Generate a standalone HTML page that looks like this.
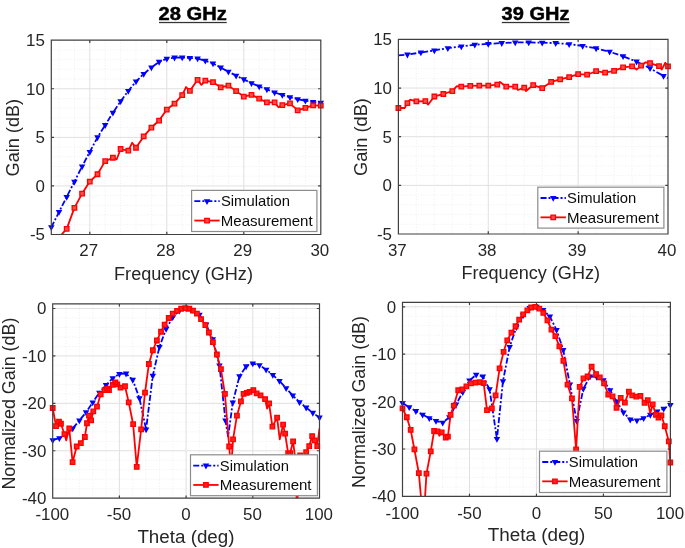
<!DOCTYPE html>
<html><head><meta charset="utf-8"><style>
html,body{margin:0;padding:0;background:#fff;width:685px;height:548px;overflow:hidden}
svg{display:block;will-change:transform}
</style></head><body>
<svg width="685" height="548" viewBox="0 0 685 548" font-family="Liberation Sans, sans-serif">
<rect width="685" height="548" fill="#fff"/>
<path d="M59.00 40.20V234.50M74.40 40.20V234.50M105.20 40.20V234.50M120.60 40.20V234.50M136.00 40.20V234.50M151.40 40.20V234.50M182.20 40.20V234.50M197.60 40.20V234.50M213.00 40.20V234.50M228.40 40.20V234.50M259.20 40.20V234.50M274.60 40.20V234.50M290.00 40.20V234.50M305.40 40.20V234.50M51.30 224.78H320.80M51.30 215.07H320.80M51.30 205.35H320.80M51.30 195.64H320.80M51.30 176.21H320.80M51.30 166.50H320.80M51.30 156.78H320.80M51.30 147.06H320.80M51.30 127.63H320.80M51.30 117.92H320.80M51.30 108.20H320.80M51.30 98.49H320.80M51.30 79.06H320.80M51.30 69.34H320.80M51.30 59.63H320.80M51.30 49.91H320.80" stroke="#ededed" stroke-width="0.9" stroke-dasharray="1 1.8" fill="none"/>
<path d="M89.80 40.20V234.50M166.80 40.20V234.50M243.80 40.20V234.50M51.30 185.93H320.80M51.30 137.35H320.80M51.30 88.77H320.80" stroke="#e0e0e0" stroke-width="1" fill="none"/>
<path d="M416.37 39.40V234.00M434.35 39.40V234.00M452.32 39.40V234.00M470.29 39.40V234.00M506.24 39.40V234.00M524.21 39.40V234.00M542.19 39.40V234.00M560.16 39.40V234.00M596.11 39.40V234.00M614.08 39.40V234.00M632.05 39.40V234.00M650.03 39.40V234.00M398.40 224.27H668.00M398.40 214.54H668.00M398.40 204.81H668.00M398.40 195.08H668.00M398.40 175.62H668.00M398.40 165.89H668.00M398.40 156.16H668.00M398.40 146.43H668.00M398.40 126.97H668.00M398.40 117.24H668.00M398.40 107.51H668.00M398.40 97.78H668.00M398.40 78.32H668.00M398.40 68.59H668.00M398.40 58.86H668.00M398.40 49.13H668.00" stroke="#ededed" stroke-width="0.9" stroke-dasharray="1 1.8" fill="none"/>
<path d="M488.27 39.40V234.00M578.13 39.40V234.00M398.40 185.35H668.00M398.40 136.70H668.00M398.40 88.05H668.00" stroke="#e0e0e0" stroke-width="1" fill="none"/>
<path d="M66.04 303.80V498.20M79.38 303.80V498.20M92.72 303.80V498.20M106.06 303.80V498.20M132.74 303.80V498.20M146.08 303.80V498.20M159.42 303.80V498.20M172.76 303.80V498.20M199.44 303.80V498.20M212.78 303.80V498.20M226.12 303.80V498.20M239.46 303.80V498.20M266.14 303.80V498.20M279.48 303.80V498.20M292.82 303.80V498.20M306.16 303.80V498.20M52.70 488.71H319.50M52.70 479.23H319.50M52.70 469.74H319.50M52.70 460.26H319.50M52.70 441.29H319.50M52.70 431.80H319.50M52.70 422.32H319.50M52.70 412.83H319.50M52.70 393.86H319.50M52.70 384.38H319.50M52.70 374.89H319.50M52.70 365.41H319.50M52.70 346.44H319.50M52.70 336.95H319.50M52.70 327.47H319.50M52.70 317.98H319.50" stroke="#ededed" stroke-width="0.9" stroke-dasharray="1 1.8" fill="none"/>
<path d="M119.40 303.80V498.20M186.10 303.80V498.20M252.80 303.80V498.20M52.70 450.77H319.50M52.70 403.35H319.50M52.70 355.92H319.50M52.70 308.50H319.50" stroke="#e0e0e0" stroke-width="1" fill="none"/>
<path d="M415.89 302.30V496.40M429.29 302.30V496.40M442.69 302.30V496.40M456.08 302.30V496.40M482.87 302.30V496.40M496.26 302.30V496.40M509.66 302.30V496.40M523.05 302.30V496.40M549.85 302.30V496.40M563.24 302.30V496.40M576.63 302.30V496.40M590.03 302.30V496.40M616.82 302.30V496.40M630.21 302.30V496.40M643.61 302.30V496.40M657.00 302.30V496.40M402.50 486.92H670.40M402.50 477.44H670.40M402.50 467.96H670.40M402.50 458.48H670.40M402.50 439.52H670.40M402.50 430.04H670.40M402.50 420.56H670.40M402.50 411.08H670.40M402.50 392.12H670.40M402.50 382.64H670.40M402.50 373.16H670.40M402.50 363.68H670.40M402.50 344.72H670.40M402.50 335.24H670.40M402.50 325.76H670.40M402.50 316.28H670.40" stroke="#ededed" stroke-width="0.9" stroke-dasharray="1 1.8" fill="none"/>
<path d="M469.48 302.30V496.40M536.45 302.30V496.40M603.42 302.30V496.40M402.50 449.00H670.40M402.50 401.60H670.40M402.50 354.20H670.40M402.50 306.80H670.40" stroke="#e0e0e0" stroke-width="1" fill="none"/>
<clipPath id="cTL"><rect x="51.30" y="40.20" width="269.50" height="194.30"/></clipPath>
<path clip-path="url(#cTL)" d="M51.30 227.31L59.00 212.06L66.70 196.90L74.40 181.65L82.10 166.40L89.80 151.92L97.50 137.35L105.20 125.11L112.90 112.77L120.60 101.31L128.30 90.91L136.00 81.49L143.70 73.91L151.40 67.40L159.10 61.86L166.80 58.66L174.50 57.59L182.20 57.49L189.90 57.88L197.60 58.46L205.30 60.80L213.00 63.42L220.70 67.60L228.40 71.77L236.10 75.66L243.80 79.35L251.50 83.24L259.20 86.44L266.90 89.36L274.60 92.47L282.30 94.99L290.00 97.32L297.70 99.17L305.40 100.72L313.10 101.99L320.80 102.86" stroke="#0000ff" stroke-width="1.8" fill="none" stroke-dasharray="6 2 2 2" stroke-linejoin="round"/>
<path d="M48.05 225.31L54.55 225.31L51.30 231.11ZM55.75 210.06L62.25 210.06L59.00 215.86ZM63.45 194.90L69.95 194.90L66.70 200.70ZM71.15 179.65L77.65 179.65L74.40 185.45ZM78.85 164.40L85.35 164.40L82.10 170.20ZM86.55 149.92L93.05 149.92L89.80 155.72ZM94.25 135.35L100.75 135.35L97.50 141.15ZM101.95 123.11L108.45 123.11L105.20 128.91ZM109.65 110.77L116.15 110.77L112.90 116.57ZM117.35 99.31L123.85 99.31L120.60 105.11ZM125.05 88.91L131.55 88.91L128.30 94.71ZM132.75 79.49L139.25 79.49L136.00 85.29ZM140.45 71.91L146.95 71.91L143.70 77.71ZM148.15 65.40L154.65 65.40L151.40 71.20ZM155.85 59.86L162.35 59.86L159.10 65.66ZM163.55 56.66L170.05 56.66L166.80 62.46ZM171.25 55.59L177.75 55.59L174.50 61.39ZM178.95 55.49L185.45 55.49L182.20 61.29ZM186.65 55.88L193.15 55.88L189.90 61.68ZM194.35 56.46L200.85 56.46L197.60 62.26ZM202.05 58.80L208.55 58.80L205.30 64.60ZM209.75 61.42L216.25 61.42L213.00 67.22ZM217.45 65.60L223.95 65.60L220.70 71.40ZM225.15 69.77L231.65 69.77L228.40 75.57ZM232.85 73.66L239.35 73.66L236.10 79.46ZM240.55 77.35L247.05 77.35L243.80 83.15ZM248.25 81.24L254.75 81.24L251.50 87.04ZM255.95 84.44L262.45 84.44L259.20 90.24ZM263.65 87.36L270.15 87.36L266.90 93.16ZM271.35 90.47L277.85 90.47L274.60 96.27ZM279.05 92.99L285.55 92.99L282.30 98.79ZM286.75 95.32L293.25 95.32L290.00 101.12ZM294.45 97.17L300.95 97.17L297.70 102.97ZM302.15 98.72L308.65 98.72L305.40 104.52ZM309.85 99.99L316.35 99.99L313.10 105.79ZM317.55 100.86L324.05 100.86L320.80 106.66Z" fill="#0000ff"/>
<path clip-path="url(#cTL)" d="M59.00 237.41L66.70 228.87L74.40 207.88L82.10 193.60L89.80 181.55L97.50 174.27L105.20 161.15L112.90 157.75L116.75 159.21L120.60 149.01L128.30 150.56L132.15 142.79L136.00 147.75L143.70 136.38L151.40 127.54L159.10 120.54L166.80 109.57L174.50 103.54L182.20 95.09L186.05 87.03L189.90 90.82L197.60 79.84L201.45 84.89L205.30 80.71L213.00 82.17L220.70 87.32L228.40 85.57L236.10 91.11L243.80 96.55L251.50 94.80L259.20 98.68L266.90 102.38L274.60 102.38L278.45 107.23L282.30 105.10L290.00 103.44L297.70 110.44L305.40 107.91L313.10 105.39L320.80 105.68" stroke="#ff0000" stroke-width="1.8" fill="none" stroke-linejoin="round"/>
<path d="M64.45 226.62h4.50v4.50h-4.50ZM72.15 205.63h4.50v4.50h-4.50ZM79.85 191.35h4.50v4.50h-4.50ZM87.55 179.30h4.50v4.50h-4.50ZM95.25 172.02h4.50v4.50h-4.50ZM102.95 158.90h4.50v4.50h-4.50ZM110.65 155.50h4.50v4.50h-4.50ZM118.35 146.76h4.50v4.50h-4.50ZM126.05 148.31h4.50v4.50h-4.50ZM133.75 145.50h4.50v4.50h-4.50ZM141.45 134.13h4.50v4.50h-4.50ZM149.15 125.29h4.50v4.50h-4.50ZM156.85 118.29h4.50v4.50h-4.50ZM164.55 107.32h4.50v4.50h-4.50ZM172.25 101.29h4.50v4.50h-4.50ZM179.95 92.84h4.50v4.50h-4.50ZM187.65 88.57h4.50v4.50h-4.50ZM195.35 77.59h4.50v4.50h-4.50ZM203.05 78.46h4.50v4.50h-4.50ZM210.75 79.92h4.50v4.50h-4.50ZM218.45 85.07h4.50v4.50h-4.50ZM226.15 83.32h4.50v4.50h-4.50ZM233.85 88.86h4.50v4.50h-4.50ZM241.55 94.30h4.50v4.50h-4.50ZM249.25 92.55h4.50v4.50h-4.50ZM256.95 96.43h4.50v4.50h-4.50ZM264.65 100.13h4.50v4.50h-4.50ZM272.35 100.13h4.50v4.50h-4.50ZM280.05 102.85h4.50v4.50h-4.50ZM287.75 101.19h4.50v4.50h-4.50ZM295.45 108.19h4.50v4.50h-4.50ZM303.15 105.66h4.50v4.50h-4.50ZM310.85 103.14h4.50v4.50h-4.50ZM318.55 103.43h4.50v4.50h-4.50Z" fill="#ff4a4a" stroke="#ff0000" stroke-width="1.3"/>
<clipPath id="cTR"><rect x="398.40" y="39.40" width="269.60" height="194.60"/></clipPath>
<path clip-path="url(#cTR)" d="M398.40 55.45L407.39 54.58L420.87 52.54L434.35 50.39L447.83 48.16L461.31 46.41L474.79 44.75L488.27 43.88L501.75 43.10L515.23 42.42L528.71 42.42L542.19 42.71L555.67 43.10L569.15 44.17L582.63 45.92L596.11 48.35L609.59 51.76L623.07 56.23L636.55 61.58L650.03 68.30L663.51 75.89L668.00 78.13" stroke="#0000ff" stroke-width="1.8" fill="none" stroke-dasharray="6 2 2 2" stroke-linejoin="round"/>
<path d="M404.14 52.58L410.64 52.58L407.39 58.38ZM417.62 50.54L424.12 50.54L420.87 56.34ZM431.10 48.39L437.60 48.39L434.35 54.19ZM444.58 46.16L451.08 46.16L447.83 51.96ZM458.06 44.41L464.56 44.41L461.31 50.21ZM471.54 42.75L478.04 42.75L474.79 48.55ZM485.02 41.88L491.52 41.88L488.27 47.68ZM498.50 41.10L505.00 41.10L501.75 46.90ZM511.98 40.42L518.48 40.42L515.23 46.22ZM525.46 40.42L531.96 40.42L528.71 46.22ZM538.94 40.71L545.44 40.71L542.19 46.51ZM552.42 41.10L558.92 41.10L555.67 46.90ZM565.90 42.17L572.40 42.17L569.15 47.97ZM579.38 43.92L585.88 43.92L582.63 49.72ZM592.86 46.35L599.36 46.35L596.11 52.15ZM606.34 49.76L612.84 49.76L609.59 55.56ZM619.82 54.23L626.32 54.23L623.07 60.03ZM633.30 59.58L639.80 59.58L636.55 65.38ZM646.78 66.30L653.28 66.30L650.03 72.10ZM660.26 73.89L666.76 73.89L663.51 79.69Z" fill="#0000ff"/>
<path clip-path="url(#cTR)" d="M398.40 108.00L404.69 108.00L407.39 103.13L410.08 99.73L416.37 101.38L425.36 101.09L428.06 104.59L434.35 96.52L443.33 93.99L452.32 91.16L456.81 86.10L461.31 86.69L470.29 85.81L479.28 85.71L488.27 85.71L497.25 84.55L499.95 81.92L506.24 86.69L515.23 86.69L517.92 90.00L524.21 87.66L526.01 90.97L533.20 85.03L542.19 88.05L551.17 81.92L560.16 79.29L569.15 77.06L578.13 74.04L587.12 74.72L596.11 71.22L605.09 72.68L614.08 70.83L623.07 67.42L632.05 66.35L636.55 69.56L641.04 65.67L645.53 62.27L650.03 63.04L659.01 66.16L661.71 69.56L665.30 62.75L668.00 66.35" stroke="#ff0000" stroke-width="1.8" fill="none" stroke-linejoin="round"/>
<path d="M396.15 105.75h4.50v4.50h-4.50ZM405.14 100.88h4.50v4.50h-4.50ZM414.12 99.13h4.50v4.50h-4.50ZM423.11 98.84h4.50v4.50h-4.50ZM432.10 94.27h4.50v4.50h-4.50ZM441.08 91.74h4.50v4.50h-4.50ZM450.07 88.91h4.50v4.50h-4.50ZM459.06 84.44h4.50v4.50h-4.50ZM468.04 83.56h4.50v4.50h-4.50ZM477.03 83.46h4.50v4.50h-4.50ZM486.02 83.46h4.50v4.50h-4.50ZM495.00 82.30h4.50v4.50h-4.50ZM503.99 84.44h4.50v4.50h-4.50ZM512.98 84.44h4.50v4.50h-4.50ZM521.96 85.41h4.50v4.50h-4.50ZM530.95 82.78h4.50v4.50h-4.50ZM539.94 85.80h4.50v4.50h-4.50ZM548.92 79.67h4.50v4.50h-4.50ZM557.91 77.04h4.50v4.50h-4.50ZM566.90 74.81h4.50v4.50h-4.50ZM575.88 71.79h4.50v4.50h-4.50ZM584.87 72.47h4.50v4.50h-4.50ZM593.86 68.97h4.50v4.50h-4.50ZM602.84 70.43h4.50v4.50h-4.50ZM611.83 68.58h4.50v4.50h-4.50ZM620.82 65.17h4.50v4.50h-4.50ZM629.80 64.10h4.50v4.50h-4.50ZM638.79 63.42h4.50v4.50h-4.50ZM647.78 60.79h4.50v4.50h-4.50ZM656.76 63.91h4.50v4.50h-4.50ZM665.75 64.10h4.50v4.50h-4.50Z" fill="#ff4a4a" stroke="#ff0000" stroke-width="1.3"/>
<clipPath id="cBL"><rect x="52.70" y="303.80" width="266.80" height="194.40"/></clipPath>
<path clip-path="url(#cBL)" d="M52.70 440.20L59.37 438.21L66.04 434.65L72.71 428.48L79.38 420.42L86.05 412.36L92.72 402.40L99.39 392.68L106.06 385.09L112.73 378.21L119.40 373.94L126.07 373.61L132.74 379.87L139.41 398.13L146.08 429.43L152.75 375.84L159.42 346.91L166.09 328.89L172.76 317.32L179.43 310.58L186.10 308.50L192.77 309.92L199.44 314.66L206.11 324.62L212.78 339.32L219.45 365.41L225.45 420.42L228.12 436.55L232.79 402.40L239.46 376.31L246.13 366.36L252.80 363.51L259.47 365.26L266.14 369.67L272.81 374.89L279.48 381.06L286.15 388.17L292.82 395.52L299.49 402.16L306.16 407.62L312.83 412.83L319.50 417.58" stroke="#0000ff" stroke-width="1.8" fill="none" stroke-dasharray="6 2 2 2" stroke-linejoin="round"/>
<path d="M49.45 438.20L55.95 438.20L52.70 444.00ZM56.12 436.21L62.62 436.21L59.37 442.01ZM62.79 432.65L69.29 432.65L66.04 438.45ZM69.46 426.48L75.96 426.48L72.71 432.28ZM76.13 418.42L82.63 418.42L79.38 424.22ZM82.80 410.36L89.30 410.36L86.05 416.16ZM89.47 400.40L95.97 400.40L92.72 406.20ZM96.14 390.68L102.64 390.68L99.39 396.48ZM102.81 383.09L109.31 383.09L106.06 388.89ZM109.48 376.21L115.98 376.21L112.73 382.01ZM116.15 371.94L122.65 371.94L119.40 377.74ZM122.82 371.61L129.32 371.61L126.07 377.41ZM129.49 377.87L135.99 377.87L132.74 383.67ZM136.16 396.13L142.66 396.13L139.41 401.93ZM142.83 427.43L149.33 427.43L146.08 433.23ZM149.50 373.84L156.00 373.84L152.75 379.64ZM156.17 344.91L162.67 344.91L159.42 350.71ZM162.84 326.89L169.34 326.89L166.09 332.69ZM169.51 315.32L176.01 315.32L172.76 321.12ZM176.18 308.58L182.68 308.58L179.43 314.38ZM182.85 306.50L189.35 306.50L186.10 312.30ZM189.52 307.92L196.02 307.92L192.77 313.72ZM196.19 312.66L202.69 312.66L199.44 318.46ZM202.86 322.62L209.36 322.62L206.11 328.42ZM209.53 337.32L216.03 337.32L212.78 343.12ZM216.20 363.41L222.70 363.41L219.45 369.21ZM222.20 418.42L228.70 418.42L225.45 424.22ZM229.54 400.40L236.04 400.40L232.79 406.20ZM236.21 374.31L242.71 374.31L239.46 380.11ZM242.88 364.36L249.38 364.36L246.13 370.16ZM249.55 361.51L256.05 361.51L252.80 367.31ZM256.22 363.26L262.72 363.26L259.47 369.06ZM262.89 367.67L269.39 367.67L266.14 373.47ZM269.56 372.89L276.06 372.89L272.81 378.69ZM276.23 379.06L282.73 379.06L279.48 384.86ZM282.90 386.17L289.40 386.17L286.15 391.97ZM289.57 393.52L296.07 393.52L292.82 399.32ZM296.24 400.16L302.74 400.16L299.49 405.96ZM302.91 405.62L309.41 405.62L306.16 411.42ZM309.58 410.83L316.08 410.83L312.83 416.63ZM316.25 415.58L322.75 415.58L319.50 421.38Z" fill="#0000ff"/>
<path clip-path="url(#cBL)" d="M52.70 408.00L56.04 426.11L58.97 421.65L60.97 423.74L64.44 434.17L66.17 440.34L69.24 428.48L72.58 462.16L76.71 446.51L80.85 443.19L84.85 437.02L86.98 423.27L88.98 415.68L91.12 420.42L93.25 411.41L96.99 406.67L100.72 394.34L104.59 390.07L107.13 388.65L108.99 390.07L112.86 384.85L115.40 382.48L117.27 384.38L120.47 387.70L125.00 386.27L128.74 402.40L133.14 424.22L136.74 466.90L141.14 429.43L145.01 392.68L148.88 363.98L152.88 350.23L156.89 340.51L161.02 331.73L164.62 324.62L168.76 317.98L172.76 313.71L177.03 310.87L181.16 308.73L185.30 308.21L189.30 308.73L192.90 310.63L196.91 313.71L201.04 319.17L205.31 325.09L208.91 332.49L212.91 342.17L216.92 354.50L220.92 369.20L224.92 393.86L229.19 446.51L231.06 469.74L233.06 439.39L236.93 415.68L240.93 401.45L243.60 393.86L246.80 392.91L249.60 391.97L253.33 390.07L256.67 393.39L260.54 395.29L265.07 399.08L267.07 408.56L269.07 403.35L272.41 426.59L277.08 417.58L279.75 439.39L283.08 424.69L285.08 433.70L288.15 453.15L290.15 453.15L293.09 441.29L295.09 457.89L296.96 507.69L300.16 455.52L303.49 460.26L306.16 452.20L309.23 446.03L312.16 436.07L314.56 440.34L317.23 446.03L319.50 428.48" stroke="#ff0000" stroke-width="1.8" fill="none" stroke-linejoin="round"/>
<path d="M50.45 405.75h4.50v4.50h-4.50ZM53.79 423.86h4.50v4.50h-4.50ZM56.72 419.40h4.50v4.50h-4.50ZM58.72 421.49h4.50v4.50h-4.50ZM62.19 431.92h4.50v4.50h-4.50ZM66.99 426.23h4.50v4.50h-4.50ZM70.33 459.91h4.50v4.50h-4.50ZM74.46 444.26h4.50v4.50h-4.50ZM78.60 440.94h4.50v4.50h-4.50ZM82.60 434.77h4.50v4.50h-4.50ZM84.73 421.02h4.50v4.50h-4.50ZM86.73 413.43h4.50v4.50h-4.50ZM88.87 418.17h4.50v4.50h-4.50ZM91.00 409.16h4.50v4.50h-4.50ZM94.74 404.42h4.50v4.50h-4.50ZM98.47 392.09h4.50v4.50h-4.50ZM102.34 387.82h4.50v4.50h-4.50ZM104.88 386.40h4.50v4.50h-4.50ZM106.74 387.82h4.50v4.50h-4.50ZM110.61 382.60h4.50v4.50h-4.50ZM113.15 380.23h4.50v4.50h-4.50ZM115.02 382.13h4.50v4.50h-4.50ZM118.22 385.45h4.50v4.50h-4.50ZM122.75 384.02h4.50v4.50h-4.50ZM126.49 400.15h4.50v4.50h-4.50ZM130.89 421.97h4.50v4.50h-4.50ZM134.49 464.65h4.50v4.50h-4.50ZM138.89 427.18h4.50v4.50h-4.50ZM142.76 390.43h4.50v4.50h-4.50ZM146.63 361.73h4.50v4.50h-4.50ZM150.63 347.98h4.50v4.50h-4.50ZM154.64 338.26h4.50v4.50h-4.50ZM158.77 329.48h4.50v4.50h-4.50ZM162.37 322.37h4.50v4.50h-4.50ZM166.51 315.73h4.50v4.50h-4.50ZM170.51 311.46h4.50v4.50h-4.50ZM174.78 308.62h4.50v4.50h-4.50ZM178.91 306.48h4.50v4.50h-4.50ZM183.05 305.96h4.50v4.50h-4.50ZM187.05 306.48h4.50v4.50h-4.50ZM190.65 308.38h4.50v4.50h-4.50ZM194.66 311.46h4.50v4.50h-4.50ZM198.79 316.92h4.50v4.50h-4.50ZM203.06 322.84h4.50v4.50h-4.50ZM206.66 330.24h4.50v4.50h-4.50ZM210.66 339.92h4.50v4.50h-4.50ZM214.67 352.25h4.50v4.50h-4.50ZM218.67 366.95h4.50v4.50h-4.50ZM222.67 391.61h4.50v4.50h-4.50ZM226.94 444.26h4.50v4.50h-4.50ZM230.81 437.14h4.50v4.50h-4.50ZM234.68 413.43h4.50v4.50h-4.50ZM238.68 399.20h4.50v4.50h-4.50ZM241.35 391.61h4.50v4.50h-4.50ZM244.55 390.66h4.50v4.50h-4.50ZM247.35 389.72h4.50v4.50h-4.50ZM251.08 387.82h4.50v4.50h-4.50ZM254.42 391.14h4.50v4.50h-4.50ZM258.29 393.04h4.50v4.50h-4.50ZM262.82 396.83h4.50v4.50h-4.50ZM266.82 401.10h4.50v4.50h-4.50ZM270.16 424.34h4.50v4.50h-4.50ZM274.83 415.33h4.50v4.50h-4.50ZM280.83 422.44h4.50v4.50h-4.50ZM282.83 431.45h4.50v4.50h-4.50ZM285.90 450.90h4.50v4.50h-4.50ZM287.90 450.90h4.50v4.50h-4.50ZM290.84 439.04h4.50v4.50h-4.50ZM297.91 453.27h4.50v4.50h-4.50ZM303.91 449.95h4.50v4.50h-4.50ZM306.98 443.78h4.50v4.50h-4.50ZM309.91 433.82h4.50v4.50h-4.50ZM312.31 438.09h4.50v4.50h-4.50ZM314.98 443.78h4.50v4.50h-4.50Z" fill="#ff2020" stroke="#ff0000" stroke-width="1.3"/>
<clipPath id="cBR"><rect x="402.50" y="302.30" width="267.90" height="194.10"/></clipPath>
<path clip-path="url(#cBR)" d="M402.50 403.02L409.20 407.29L415.89 411.08L422.59 414.64L429.29 418.19L435.99 421.04L442.69 422.69L449.38 417.24L456.08 404.45L462.78 392.12L469.48 380.51L476.17 374.82L482.87 376.48L489.57 389.28L496.93 439.05L502.96 381.22L509.66 346.90L516.36 327.18L523.05 315.33L529.75 307.99L536.45 306.80L543.15 309.88L549.85 316.61L556.54 329.89L563.24 349.94L569.94 384.54L576.63 421.04L583.33 388.80L590.03 376.48L596.73 376.95L603.42 380.27L610.12 390.23L616.82 401.60L623.52 412.50L630.21 419.61L636.91 420.56L643.61 418.19L650.31 414.87L657.00 411.56L663.70 408.71L670.40 404.92" stroke="#0000ff" stroke-width="1.8" fill="none" stroke-dasharray="6 2 2 2" stroke-linejoin="round"/>
<path d="M399.25 401.02L405.75 401.02L402.50 406.82ZM405.95 405.29L412.45 405.29L409.20 411.09ZM412.64 409.08L419.14 409.08L415.89 414.88ZM419.34 412.64L425.84 412.64L422.59 418.44ZM426.04 416.19L432.54 416.19L429.29 421.99ZM432.74 419.04L439.24 419.04L435.99 424.84ZM439.44 420.69L445.94 420.69L442.69 426.49ZM446.13 415.24L452.63 415.24L449.38 421.04ZM452.83 402.45L459.33 402.45L456.08 408.25ZM459.53 390.12L466.03 390.12L462.78 395.92ZM466.23 378.51L472.73 378.51L469.48 384.31ZM472.92 372.82L479.42 372.82L476.17 378.62ZM479.62 374.48L486.12 374.48L482.87 380.28ZM486.32 387.28L492.82 387.28L489.57 393.08ZM493.68 437.05L500.18 437.05L496.93 442.85ZM499.71 379.22L506.21 379.22L502.96 385.02ZM506.41 344.90L512.91 344.90L509.66 350.70ZM513.11 325.18L519.61 325.18L516.36 330.98ZM519.80 313.33L526.30 313.33L523.05 319.13ZM526.50 305.99L533.00 305.99L529.75 311.79ZM533.20 304.80L539.70 304.80L536.45 310.60ZM539.90 307.88L546.40 307.88L543.15 313.68ZM546.60 314.61L553.10 314.61L549.85 320.41ZM553.29 327.89L559.79 327.89L556.54 333.69ZM559.99 347.94L566.49 347.94L563.24 353.74ZM566.69 382.54L573.19 382.54L569.94 388.34ZM573.38 419.04L579.88 419.04L576.63 424.84ZM580.08 386.80L586.58 386.80L583.33 392.60ZM586.78 374.48L593.28 374.48L590.03 380.28ZM593.48 374.95L599.98 374.95L596.73 380.75ZM600.17 378.27L606.67 378.27L603.42 384.07ZM606.87 388.23L613.37 388.23L610.12 394.03ZM613.57 399.60L620.07 399.60L616.82 405.40ZM620.27 410.50L626.77 410.50L623.52 416.30ZM626.96 417.61L633.46 417.61L630.21 423.41ZM633.66 418.56L640.16 418.56L636.91 424.36ZM640.36 416.19L646.86 416.19L643.61 421.99ZM647.06 412.87L653.56 412.87L650.31 418.67ZM653.75 409.56L660.25 409.56L657.00 415.36ZM660.45 406.71L666.95 406.71L663.70 412.51ZM667.15 402.92L673.65 402.92L670.40 408.72Z" fill="#0000ff"/>
<path clip-path="url(#cBR)" d="M402.50 408.47L406.79 417.24L410.67 429.90L414.42 449.47L418.84 473.17L422.59 515.36L423.93 515.36L426.48 473.65L430.76 451.37L434.11 430.99L437.46 431.46L439.34 435.73L441.75 432.41L445.77 437.62L447.91 436.68L450.59 414.87L453.80 405.63L458.22 390.23L462.24 389.28L466.39 386.43L470.95 383.35L475.50 382.64L479.66 382.17L483.67 383.12L487.02 410.13L491.84 408.47L495.60 395.44L499.61 368.28L503.63 351.83L507.25 340.31L511.40 332.68L515.55 326.24L519.17 319.60L523.19 314.39L527.34 310.41L531.09 307.51L535.24 306.80L539.26 308.60L543.28 312.96L547.43 320.31L551.45 329.55L555.34 336.19L559.36 346.38L563.37 360.84L567.53 384.54L571.95 398.28L576.10 449.47L579.72 386.91L583.47 378.38L587.62 376.48L591.64 366.53L596.06 374.11L599.81 377.43L604.09 383.35L608.25 394.49L612.53 396.39L616.55 407.76L620.70 397.81L624.86 402.55L628.88 391.65L632.22 395.44L636.24 396.62L640.40 395.91L644.55 402.79L647.76 400.18L650.17 413.45L652.72 404.45L655.93 414.87L658.48 417.72L661.43 415.35L664.77 426.25L668.79 441.42L670.27 462.51" stroke="#ff0000" stroke-width="1.8" fill="none" stroke-linejoin="round"/>
<path d="M400.25 406.22h4.50v4.50h-4.50ZM404.54 414.99h4.50v4.50h-4.50ZM408.42 427.65h4.50v4.50h-4.50ZM412.17 447.22h4.50v4.50h-4.50ZM416.59 470.92h4.50v4.50h-4.50ZM424.23 471.40h4.50v4.50h-4.50ZM428.51 449.12h4.50v4.50h-4.50ZM431.86 428.74h4.50v4.50h-4.50ZM435.21 429.21h4.50v4.50h-4.50ZM439.50 430.16h4.50v4.50h-4.50ZM443.52 435.37h4.50v4.50h-4.50ZM445.66 434.43h4.50v4.50h-4.50ZM448.34 412.62h4.50v4.50h-4.50ZM451.55 403.38h4.50v4.50h-4.50ZM455.97 387.98h4.50v4.50h-4.50ZM459.99 387.03h4.50v4.50h-4.50ZM464.14 384.18h4.50v4.50h-4.50ZM468.70 381.10h4.50v4.50h-4.50ZM473.25 380.39h4.50v4.50h-4.50ZM477.41 379.92h4.50v4.50h-4.50ZM481.42 380.87h4.50v4.50h-4.50ZM484.77 407.88h4.50v4.50h-4.50ZM489.59 406.22h4.50v4.50h-4.50ZM493.35 393.19h4.50v4.50h-4.50ZM497.36 366.03h4.50v4.50h-4.50ZM501.38 349.58h4.50v4.50h-4.50ZM505.00 338.06h4.50v4.50h-4.50ZM509.15 330.43h4.50v4.50h-4.50ZM513.30 323.99h4.50v4.50h-4.50ZM516.92 317.35h4.50v4.50h-4.50ZM520.94 312.14h4.50v4.50h-4.50ZM525.09 308.16h4.50v4.50h-4.50ZM528.84 305.26h4.50v4.50h-4.50ZM532.99 304.55h4.50v4.50h-4.50ZM537.01 306.35h4.50v4.50h-4.50ZM541.03 310.71h4.50v4.50h-4.50ZM545.18 318.06h4.50v4.50h-4.50ZM549.20 327.30h4.50v4.50h-4.50ZM553.09 333.94h4.50v4.50h-4.50ZM557.11 344.13h4.50v4.50h-4.50ZM561.12 358.59h4.50v4.50h-4.50ZM565.28 382.29h4.50v4.50h-4.50ZM569.70 396.03h4.50v4.50h-4.50ZM573.85 447.22h4.50v4.50h-4.50ZM577.47 384.66h4.50v4.50h-4.50ZM581.22 376.13h4.50v4.50h-4.50ZM585.37 374.23h4.50v4.50h-4.50ZM589.39 364.28h4.50v4.50h-4.50ZM593.81 371.86h4.50v4.50h-4.50ZM597.56 375.18h4.50v4.50h-4.50ZM601.84 381.10h4.50v4.50h-4.50ZM606.00 392.24h4.50v4.50h-4.50ZM610.28 394.14h4.50v4.50h-4.50ZM614.30 405.51h4.50v4.50h-4.50ZM618.45 395.56h4.50v4.50h-4.50ZM622.61 400.30h4.50v4.50h-4.50ZM626.63 389.40h4.50v4.50h-4.50ZM629.97 393.19h4.50v4.50h-4.50ZM633.99 394.37h4.50v4.50h-4.50ZM638.15 393.66h4.50v4.50h-4.50ZM642.30 400.54h4.50v4.50h-4.50ZM645.51 397.93h4.50v4.50h-4.50ZM650.47 402.20h4.50v4.50h-4.50ZM653.68 412.62h4.50v4.50h-4.50ZM656.23 415.47h4.50v4.50h-4.50ZM659.18 413.10h4.50v4.50h-4.50ZM662.52 424.00h4.50v4.50h-4.50ZM666.54 439.17h4.50v4.50h-4.50ZM668.02 460.26h4.50v4.50h-4.50Z" fill="#ff2020" stroke="#ff0000" stroke-width="1.3"/>
<path d="M51.30 40.20H320.80V234.50H51.30ZM89.80 234.50v-2.70M89.80 40.20v2.70M166.80 234.50v-2.70M166.80 40.20v2.70M243.80 234.50v-2.70M243.80 40.20v2.70M320.80 234.50v-2.70M320.80 40.20v2.70M51.30 234.50h2.70M320.80 234.50h-2.70M51.30 185.93h2.70M320.80 185.93h-2.70M51.30 137.35h2.70M320.80 137.35h-2.70M51.30 88.77h2.70M320.80 88.77h-2.70M51.30 40.20h2.70M320.80 40.20h-2.70" stroke="#404040" stroke-width="1.2" fill="none"/>
<path d="M398.40 39.40H668.00V234.00H398.40ZM398.40 234.00v-2.70M398.40 39.40v2.70M488.27 234.00v-2.70M488.27 39.40v2.70M578.13 234.00v-2.70M578.13 39.40v2.70M668.00 234.00v-2.70M668.00 39.40v2.70M398.40 234.00h2.70M668.00 234.00h-2.70M398.40 185.35h2.70M668.00 185.35h-2.70M398.40 136.70h2.70M668.00 136.70h-2.70M398.40 88.05h2.70M668.00 88.05h-2.70M398.40 39.40h2.70M668.00 39.40h-2.70" stroke="#404040" stroke-width="1.2" fill="none"/>
<path d="M52.70 303.80H319.50V498.20H52.70ZM52.70 498.20v-2.70M52.70 303.80v2.70M119.40 498.20v-2.70M119.40 303.80v2.70M186.10 498.20v-2.70M186.10 303.80v2.70M252.80 498.20v-2.70M252.80 303.80v2.70M319.50 498.20v-2.70M319.50 303.80v2.70M52.70 498.20h2.70M319.50 498.20h-2.70M52.70 450.77h2.70M319.50 450.77h-2.70M52.70 403.35h2.70M319.50 403.35h-2.70M52.70 355.92h2.70M319.50 355.92h-2.70M52.70 308.50h2.70M319.50 308.50h-2.70" stroke="#404040" stroke-width="1.2" fill="none"/>
<path d="M402.50 302.30H670.40V496.40H402.50ZM402.50 496.40v-2.70M402.50 302.30v2.70M469.48 496.40v-2.70M469.48 302.30v2.70M536.45 496.40v-2.70M536.45 302.30v2.70M603.42 496.40v-2.70M603.42 302.30v2.70M670.40 496.40v-2.70M670.40 302.30v2.70M402.50 496.40h2.70M670.40 496.40h-2.70M402.50 449.00h2.70M670.40 449.00h-2.70M402.50 401.60h2.70M670.40 401.60h-2.70M402.50 354.20h2.70M670.40 354.20h-2.70M402.50 306.80h2.70M670.40 306.80h-2.70" stroke="#404040" stroke-width="1.2" fill="none"/>
<rect x="191.60" y="190.40" width="125.30" height="41.10" fill="#fff" stroke="#8c8c8c" stroke-width="1.2"/>
<path d="M194.35 201.20H219.70" stroke="#0000ff" stroke-width="1.8" stroke-dasharray="6 2 2 2"/>
<path d="M203.77 199.20L210.27 199.20L207.02 205.00Z" fill="#0000ff"/>
<path d="M194.35 220.55H219.70" stroke="#ff0000" stroke-width="1.8"/>
<path d="M204.77 218.30h4.50v4.50h-4.50Z" fill="#ff4a4a" stroke="#ff0000" stroke-width="1.3"/>
<g fill="#0a0a0a">
<text x="220.91" y="206.40" font-size="15.00" textLength="69.12" lengthAdjust="spacingAndGlyphs">Simulation</text>
<text x="220.80" y="226.00" font-size="15.00" textLength="91.87" lengthAdjust="spacingAndGlyphs">Measurement</text>
</g>
<rect x="537.80" y="187.20" width="126.10" height="40.90" fill="#fff" stroke="#8c8c8c" stroke-width="1.2"/>
<path d="M540.55 198.00H565.90" stroke="#0000ff" stroke-width="1.8" stroke-dasharray="6 2 2 2"/>
<path d="M549.97 196.00L556.47 196.00L553.22 201.80Z" fill="#0000ff"/>
<path d="M540.55 217.35H565.90" stroke="#ff0000" stroke-width="1.8"/>
<path d="M550.97 215.10h4.50v4.50h-4.50Z" fill="#ff4a4a" stroke="#ff0000" stroke-width="1.3"/>
<g fill="#0a0a0a">
<text x="567.11" y="203.20" font-size="15.00" textLength="69.12" lengthAdjust="spacingAndGlyphs">Simulation</text>
<text x="567.00" y="222.80" font-size="15.00" textLength="91.87" lengthAdjust="spacingAndGlyphs">Measurement</text>
</g>
<rect x="190.50" y="454.80" width="126.90" height="40.90" fill="#fff" stroke="#8c8c8c" stroke-width="1.2"/>
<path d="M193.25 465.60H218.60" stroke="#0000ff" stroke-width="1.8" stroke-dasharray="6 2 2 2"/>
<path d="M202.68 463.60L209.18 463.60L205.93 469.40Z" fill="#0000ff"/>
<path d="M193.25 484.95H218.60" stroke="#ff0000" stroke-width="1.8"/>
<path d="M203.68 482.70h4.50v4.50h-4.50Z" fill="#ff2020" stroke="#ff0000" stroke-width="1.3"/>
<g fill="#0a0a0a">
<text x="219.81" y="470.80" font-size="15.00" textLength="69.12" lengthAdjust="spacingAndGlyphs">Simulation</text>
<text x="219.70" y="490.40" font-size="15.00" textLength="91.87" lengthAdjust="spacingAndGlyphs">Measurement</text>
</g>
<rect x="539.50" y="451.20" width="127.40" height="41.30" fill="#fff" stroke="#8c8c8c" stroke-width="1.2"/>
<path d="M542.25 462.00H567.60" stroke="#0000ff" stroke-width="1.8" stroke-dasharray="6 2 2 2"/>
<path d="M551.67 460.00L558.17 460.00L554.92 465.80Z" fill="#0000ff"/>
<path d="M542.25 481.35H567.60" stroke="#ff0000" stroke-width="1.8"/>
<path d="M552.67 479.10h4.50v4.50h-4.50Z" fill="#ff2020" stroke="#ff0000" stroke-width="1.3"/>
<g fill="#0a0a0a">
<text x="568.81" y="467.20" font-size="15.00" textLength="69.12" lengthAdjust="spacingAndGlyphs">Simulation</text>
<text x="568.70" y="486.80" font-size="15.00" textLength="91.87" lengthAdjust="spacingAndGlyphs">Measurement</text>
</g>
<g font-size="16.90" fill="#262626">
<text x="79.37" y="255.88">27</text>
<text x="156.28" y="255.88">28</text>
<text x="233.37" y="255.88">29</text>
<text x="310.45" y="255.88">30</text>
<text x="29.88" y="240.41">-5</text>
<text x="35.51" y="191.84">0</text>
<text x="35.51" y="143.26">5</text>
<text x="26.11" y="94.69">10</text>
<text x="26.11" y="46.11">15</text>
<text x="387.94" y="255.98">37</text>
<text x="477.72" y="255.98">38</text>
<text x="567.67" y="255.98">39</text>
<text x="657.54" y="255.98">40</text>
<text x="376.98" y="239.91">-5</text>
<text x="382.61" y="191.26">0</text>
<text x="382.61" y="142.61">5</text>
<text x="373.21" y="93.97">10</text>
<text x="373.21" y="45.32">15</text>
<text x="35.46" y="520.08">-100</text>
<text x="106.85" y="520.08">-50</text>
<text x="181.15" y="520.08">0</text>
<text x="243.07" y="520.08">50</text>
<text x="304.82" y="520.08">100</text>
<text x="21.89" y="504.12">-40</text>
<text x="21.89" y="456.69">-30</text>
<text x="21.89" y="409.26">-20</text>
<text x="21.89" y="361.84">-10</text>
<text x="36.91" y="314.41">0</text>
<text x="385.46" y="518.78">-100</text>
<text x="457.13" y="518.78">-50</text>
<text x="531.70" y="518.78">0</text>
<text x="593.89" y="518.78">50</text>
<text x="655.92" y="518.78">100</text>
<text x="371.69" y="502.31">-40</text>
<text x="371.69" y="454.92">-30</text>
<text x="371.69" y="407.52">-20</text>
<text x="371.69" y="360.12">-10</text>
<text x="386.71" y="312.72">0</text>
</g>
<g fill="#262626">
<text x="114.05" y="279.80" font-size="18.30" textLength="138.91" lengthAdjust="spacingAndGlyphs">Frequency (GHz)</text>
<text x="461.45" y="278.70" font-size="18.30" textLength="138.60" lengthAdjust="spacingAndGlyphs">Frequency (GHz)</text>
<text x="137.42" y="542.90" font-size="18.30" textLength="97.07" lengthAdjust="spacingAndGlyphs">Theta (deg)</text>
<text x="487.82" y="541.40" font-size="18.30" textLength="97.58" lengthAdjust="spacingAndGlyphs">Theta (deg)</text>
<text transform="translate(19.30 175.50) rotate(-90)" x="-0.91" y="0" font-size="18.30" textLength="77.46" lengthAdjust="spacingAndGlyphs">Gain (dB)</text>
<text transform="translate(367.00 175.10) rotate(-90)" x="-0.91" y="0" font-size="18.30" textLength="77.87" lengthAdjust="spacingAndGlyphs">Gain (dB)</text>
<text transform="translate(15.30 488.20) rotate(-90)" x="-1.43" y="0" font-size="18.30" textLength="171.98" lengthAdjust="spacingAndGlyphs">Normalized Gain (dB)</text>
<text transform="translate(364.80 486.50) rotate(-90)" x="-1.43" y="0" font-size="18.30" textLength="171.88" lengthAdjust="spacingAndGlyphs">Normalized Gain (dB)</text>
</g>
<g fill="#000" stroke="#000" stroke-width="0.45">
<text x="158.60" y="19.70" font-size="17.60" textLength="68.21" lengthAdjust="spacingAndGlyphs" font-weight="bold">28 GHz</text>
<text x="501.60" y="19.70" font-size="17.60" textLength="67.80" lengthAdjust="spacingAndGlyphs" font-weight="bold">39 GHz</text>
</g>
<rect x="159.0" y="21.9" width="67.7" height="1.25" fill="#333"/>
<rect x="501.8" y="21.9" width="67.7" height="1.25" fill="#333"/>
</svg>
</body></html>
